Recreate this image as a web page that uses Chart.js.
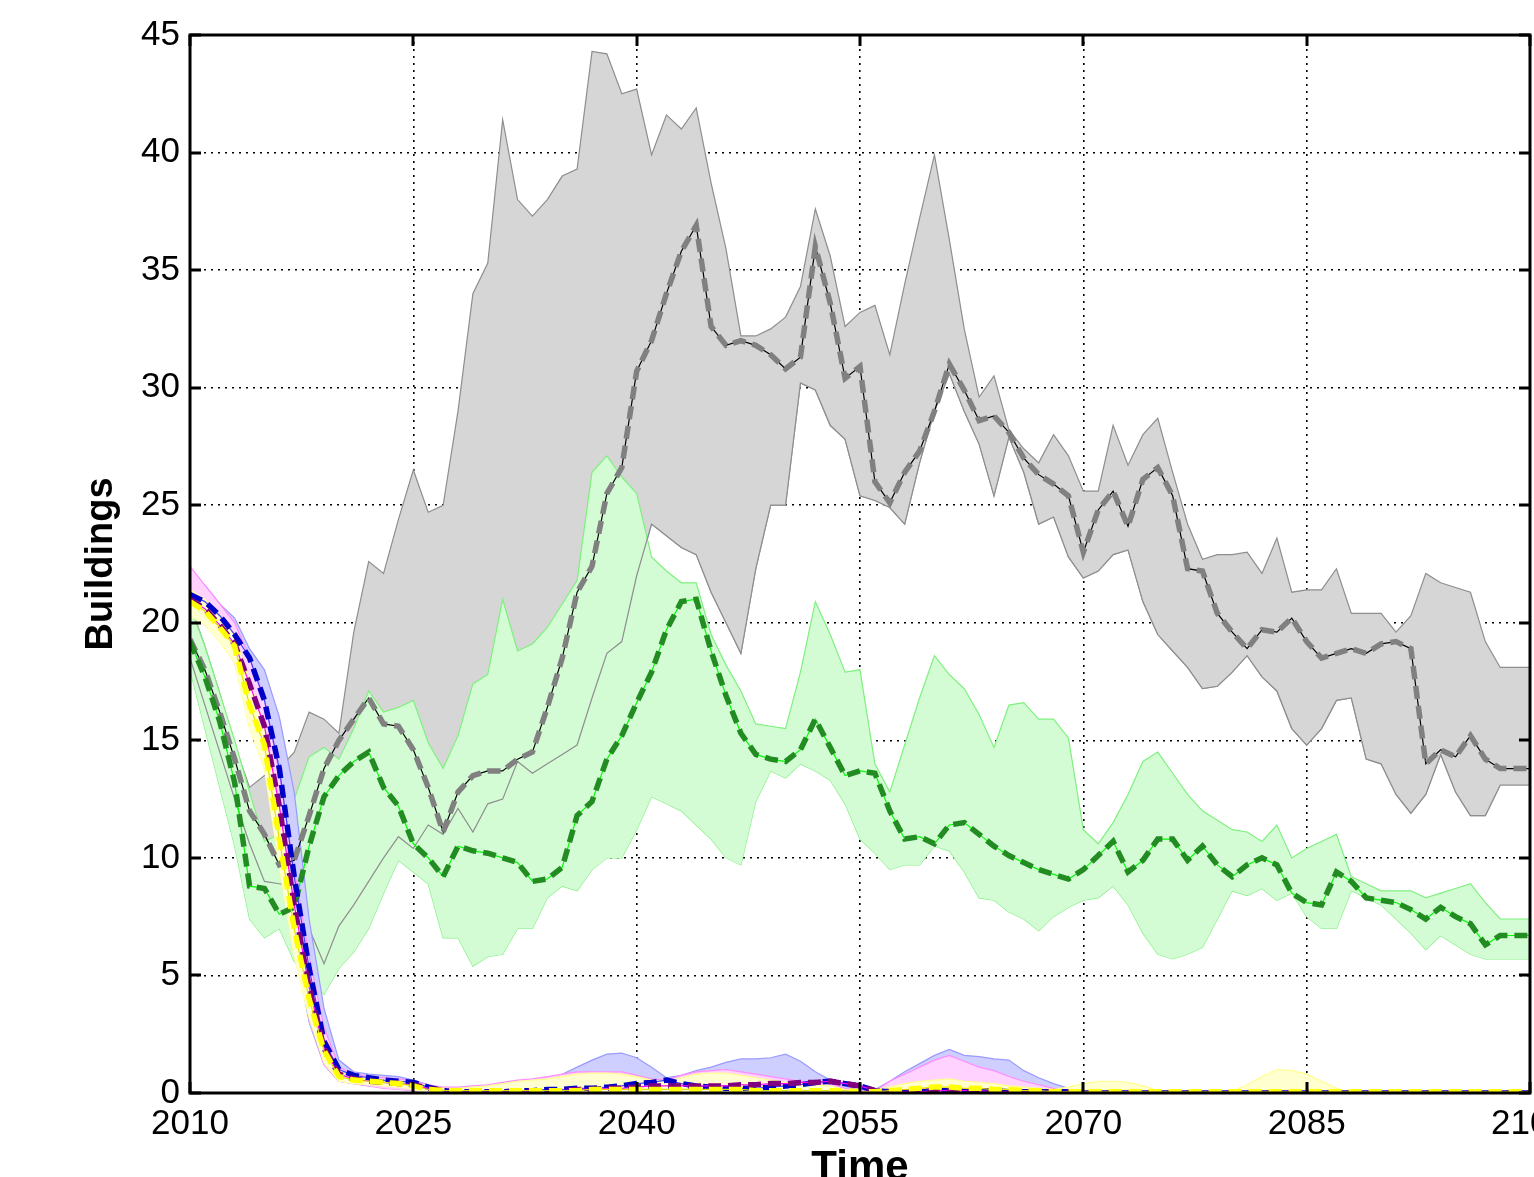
<!DOCTYPE html>
<html>
<head>
<meta charset="utf-8">
<script src="https://cdn.jsdelivr.net/npm/chart.js@4.4.1/dist/chart.umd.min.js"></script>
<style>
  html, body { margin: 0; padding: 0; background: #fff; }
  canvas { display: block; }
</style>
</head>
<body>
<canvas id="chart" width="1534" height="1177"></canvas>
<script>
// Simulation years (one sample per year)
const years = [];
for (let y = 2010; y <= 2100; y++) years.push(y);

const xTicks = [2010, 2025, 2040, 2055, 2070, 2085, 2100];
const xTickLabels = ['2010', '2025', '2040', '2055', '2070', '2085', '2100'];
const yTicks = [0, 5, 10, 15, 20, 25, 30, 35, 40, 45];
const yTickLabels = ['0', '5', '10', '15', '20', '25', '30', '35', '40', '45'];

// Gray group: mean and envelope
const grayMean = [
  19.3, 18.0, 16.2, 14.2, 12.0, 11.0, 9.7, 9.9, 11.8, 13.8,
  15.0, 15.9, 16.8, 15.7, 15.6, 14.6, 13.0, 11.1, 12.8, 13.5,
  13.7, 13.7, 14.2, 14.5, 16.4, 18.5, 21.3, 22.4, 25.5, 26.6,
  30.7, 32.0, 34.0, 35.8, 36.9, 32.6, 31.8, 32.0, 31.8, 31.4,
  30.8, 31.3, 36.0, 33.6, 30.4, 30.9, 26.0, 25.1, 26.4, 27.3,
  29.0, 31.0, 29.9, 28.6, 28.8, 28.1, 27.0, 26.3, 25.9, 25.4,
  23.0, 24.8, 25.6, 24.1, 26.1, 26.6, 25.4, 22.3, 22.2, 20.4,
  19.6, 18.9, 19.7, 19.6, 20.2, 19.2, 18.5, 18.7, 18.9, 18.7,
  19.1, 19.2, 18.9, 14.0, 14.6, 14.3, 15.2, 14.2, 13.8, 13.8, 13.8
];
const grayHi = [
  20.8, 19.0, 17.0, 14.8, 13.0, 13.5, 13.8, 14.5, 16.2, 15.9,
  15.3, 19.6, 22.6, 22.1, 24.4, 26.5, 24.7, 25.0, 29.0, 34.0,
  35.3, 41.4, 38.0, 37.3, 38.0, 39.0, 39.3, 44.3, 44.2, 42.5,
  42.7, 39.9, 41.6, 41.0, 41.9, 38.7, 35.9, 32.2, 32.2, 32.5,
  33.0, 34.3, 37.6, 35.6, 32.6, 33.2, 33.5, 31.4, 34.4, 37.2,
  39.9, 36.3, 32.5, 29.6, 30.5, 28.2, 27.4, 26.8, 28.0, 27.1,
  25.6, 25.6, 28.4, 26.7, 28.0, 28.7, 26.4, 24.2, 22.7, 22.9,
  22.9, 23.0, 22.1, 23.6, 21.3, 21.4, 21.4, 22.3, 20.4, 20.4,
  20.4, 19.6, 20.3, 22.1, 21.7, 21.5, 21.3, 19.2, 18.1, 18.1, 18.1
];
const grayLo = [
  18.5, 16.5, 14.5, 12.5, 10.6, 9.0, 8.9, 8.8, 7.0, 5.5,
  7.1, 8.0, 9.0, 10.0, 10.9, 10.4, 11.4, 11.0, 12.1, 11.1,
  12.3, 12.5, 14.1, 13.6, 14.0, 14.4, 14.8, 16.8, 18.7, 19.2,
  22.0, 24.2, 23.7, 23.2, 22.9, 21.3, 20.0, 18.7, 22.3, 25.0,
  25.0, 30.2, 29.9, 28.4, 27.8, 25.4, 25.2, 24.9, 24.2, 26.8,
  29.0, 30.6, 29.0, 27.6, 25.4, 27.9, 26.4, 24.2, 24.5, 22.8,
  21.9, 22.2, 22.9, 23.1, 20.9, 19.5, 18.8, 18.1, 17.2, 17.3,
  17.9, 18.6, 17.7, 17.1, 15.5, 14.8, 15.5, 16.7, 16.8, 14.2,
  14.0, 12.7, 11.9, 12.7, 14.4, 12.8, 11.8, 11.8, 13.1, 13.1, 13.1
];

// Green group
const greenMean = [
  19.2, 17.7, 15.8, 13.2, 8.8, 8.7, 7.6, 7.9, 10.5, 12.6,
  13.5, 14.1, 14.5, 13.0, 12.2, 10.6, 10.0, 9.2, 10.5, 10.3,
  10.2, 10.0, 9.8, 9.0, 9.1, 9.6, 11.8, 12.4, 14.2, 15.2,
  16.6, 17.9, 19.7, 20.9, 21.0, 18.8, 16.9, 15.3, 14.4, 14.2,
  14.1, 14.6, 15.9, 14.7, 13.5, 13.7, 13.6, 12.0, 10.8, 10.9,
  10.6, 11.4, 11.5, 11.0, 10.5, 10.1, 9.8, 9.5, 9.3, 9.1,
  9.5, 10.1, 10.7, 9.4, 9.9, 10.8, 10.8, 9.9, 10.5, 9.7,
  9.2, 9.7, 10.0, 9.7, 8.5, 8.1, 8.0, 9.4, 9.0, 8.3,
  8.2, 8.1, 7.8, 7.4, 7.9, 7.5, 7.2, 6.3, 6.7, 6.7, 6.7
];
const greenHi = [
  20.7, 19.0, 17.0, 15.0, 12.8, 10.7, 11.0, 12.5, 14.3, 14.7,
  14.2, 15.5, 17.1, 16.2, 16.4, 16.7, 14.9, 13.8, 15.2, 17.4,
  17.8, 21.0, 18.8, 19.1, 19.8, 20.8, 21.8, 26.4, 27.1, 26.2,
  25.5, 22.8, 22.2, 21.7, 21.7, 19.5, 18.2, 17.1, 15.7, 15.6,
  15.5, 17.9, 20.9, 19.5, 17.9, 18.0, 14.0, 12.8, 14.8, 16.8,
  18.6, 17.8, 17.2, 16.1, 14.7, 16.5, 16.6, 15.9, 15.9, 15.1,
  11.2, 10.6, 11.5, 12.7, 14.1, 14.5, 13.6, 12.7, 12.0, 11.6,
  11.2, 11.1, 10.7, 11.4, 10.0, 10.4, 10.7, 11.0, 9.2, 8.9,
  8.6, 8.6, 8.6, 8.3, 8.5, 8.7, 8.9, 8.1, 7.4, 7.4, 7.4
];
const greenLo = [
  18.0, 15.5, 13.0, 10.5, 7.4, 6.6, 7.0, 5.6, 4.9, 4.2,
  5.3, 6.0, 7.0, 8.5, 9.9, 9.4, 8.9, 6.6, 6.6, 5.4,
  5.8, 5.9, 7.0, 7.0, 8.3, 8.8, 8.6, 9.5, 10.0, 10.0,
  11.2, 12.6, 12.3, 12.0, 11.4, 10.8, 10.0, 9.7, 12.4, 13.7,
  13.4, 14.0, 13.7, 13.3, 12.3, 10.8, 10.2, 9.5, 9.7, 9.7,
  10.5, 10.3, 9.4, 8.3, 8.2, 7.7, 7.4, 6.9, 7.5, 7.9,
  8.2, 8.3, 8.8, 8.0, 6.8, 5.9, 5.7, 5.9, 6.2, 7.4,
  8.6, 8.4, 8.7, 8.2, 8.5, 7.5, 7.0, 7.0, 8.6, 8.3,
  8.0, 7.4, 6.8, 6.1, 6.7, 6.3, 5.9, 5.7, 5.7, 5.7, 5.7
];

// Blue group
const blueMean = [
  21.2, 20.9, 20.3, 19.5, 18.5, 16.7, 13.8, 9.2, 5.3, 2.2,
  1.0, 0.75, 0.65, 0.55, 0.5, 0.45, 0.25, 0.1, 0.05, 0.05,
  0.05, 0.05, 0.1, 0.1, 0.15, 0.15, 0.2, 0.2, 0.25, 0.3,
  0.4, 0.45, 0.55, 0.4, 0.3, 0.25, 0.2, 0.2, 0.2, 0.25,
  0.3, 0.35, 0.45, 0.5, 0.4, 0.3, 0.1, 0.05, 0.05, 0.05,
  0.1, 0.1, 0.1, 0.1, 0.1, 0.05, 0.05, 0.05, 0.05, 0.05,
  0, 0, 0, 0, 0, 0, 0, 0, 0, 0,
  0, 0, 0, 0, 0, 0, 0, 0, 0, 0,
  0, 0, 0, 0, 0, 0, 0, 0, 0, 0, 0
];
const blueHi = [
  21.9, 21.6, 20.8, 20.2, 18.9, 18.0, 16.0, 12.8, 7.4, 3.6,
  1.4, 0.9, 0.8, 0.75, 0.7, 0.55, 0.35, 0.15, 0.1, 0.15,
  0.3, 0.4, 0.45, 0.5, 0.55, 0.8, 1.1, 1.4, 1.65, 1.7,
  1.5, 1.1, 0.65, 0.75, 0.95, 1.1, 1.3, 1.45, 1.45, 1.5,
  1.65, 1.35, 0.9, 0.55, 0.3, 0.1, 0.15, 0.5, 0.9, 1.25,
  1.6, 1.85, 1.6, 1.55, 1.45, 1.4, 0.95, 0.65, 0.4, 0.2,
  0.05, 0, 0, 0, 0, 0, 0, 0, 0, 0,
  0, 0, 0, 0, 0, 0, 0, 0, 0, 0,
  0, 0, 0, 0, 0, 0, 0, 0, 0, 0, 0
];
const blueLo = [
  20.4, 20.0, 19.4, 18.5, 17.0, 15.0, 11.5, 6.5, 3.0, 1.2,
  0.5, 0.4, 0.3, 0.25, 0.2, 0.1, 0, 0, 0, 0,
  0, 0, 0, 0, 0, 0, 0, 0, 0, 0,
  0, 0, 0, 0, 0, 0, 0, 0, 0, 0,
  0, 0, 0, 0, 0, 0, 0, 0, 0, 0,
  0, 0, 0, 0, 0, 0, 0, 0, 0, 0,
  0, 0, 0, 0, 0, 0, 0, 0, 0, 0,
  0, 0, 0, 0, 0, 0, 0, 0, 0, 0,
  0, 0, 0, 0, 0, 0, 0, 0, 0, 0, 0
];

// Magenta group
const magentaMean = [
  21.0, 20.6, 19.9, 19.1, 17.4, 15.6, 12.2, 8.0, 4.5, 1.9,
  0.8, 0.6, 0.5, 0.45, 0.4, 0.35, 0.2, 0.1, 0.05, 0.05,
  0.05, 0.05, 0.05, 0.1, 0.1, 0.1, 0.15, 0.15, 0.2, 0.2,
  0.25, 0.3, 0.3, 0.3, 0.3, 0.3, 0.3, 0.35, 0.35, 0.4,
  0.4, 0.45, 0.45, 0.5, 0.4, 0.3, 0.1, 0.05, 0.05, 0.05,
  0.1, 0.1, 0.1, 0.1, 0.05, 0.05, 0.05, 0.05, 0.05, 0.05,
  0, 0, 0, 0, 0, 0, 0, 0, 0, 0,
  0, 0, 0, 0, 0, 0, 0, 0, 0, 0,
  0, 0, 0, 0, 0, 0, 0, 0, 0, 0, 0
];
const magentaHi = [
  22.4, 21.6, 20.8, 20.0, 18.5, 16.8, 13.6, 9.5, 5.8, 2.8,
  1.1, 0.8, 0.7, 0.65, 0.6, 0.5, 0.35, 0.25, 0.25, 0.3,
  0.35, 0.45, 0.55, 0.6, 0.7, 0.8, 0.9, 0.9, 0.9, 0.9,
  0.75, 0.6, 0.55, 0.75, 0.9, 0.95, 1.0, 0.9, 0.8, 0.7,
  0.6, 0.5, 0.45, 0.4, 0.2, 0.1, 0.1, 0.5, 0.8, 1.1,
  1.4, 1.6, 1.35, 1.1, 0.95, 0.7, 0.5, 0.35, 0.2, 0.1,
  0, 0, 0, 0, 0, 0, 0, 0, 0, 0,
  0, 0, 0, 0, 0, 0, 0, 0, 0, 0,
  0, 0, 0, 0, 0, 0, 0, 0, 0, 0, 0
];
const magentaLo = [
  20.5, 19.9, 19.3, 18.3, 16.0, 14.0, 10.5, 6.5, 3.2, 1.2,
  0.5, 0.4, 0.3, 0.2, 0.15, 0.1, 0, 0, 0, 0,
  0, 0, 0, 0, 0, 0, 0, 0, 0, 0,
  0, 0, 0, 0, 0, 0, 0, 0, 0, 0,
  0, 0, 0, 0, 0, 0, 0, 0, 0, 0,
  0, 0, 0, 0, 0, 0, 0, 0, 0, 0,
  0, 0, 0, 0, 0, 0, 0, 0, 0, 0,
  0, 0, 0, 0, 0, 0, 0, 0, 0, 0,
  0, 0, 0, 0, 0, 0, 0, 0, 0, 0, 0
];

// Yellow group
const yellowMean = [
  20.9, 20.5, 19.8, 19.0, 16.5, 14.8, 10.8, 7.0, 4.0, 1.8,
  0.7, 0.55, 0.5, 0.45, 0.4, 0.3, 0.15, 0.1, 0.1, 0.1,
  0.1, 0.1, 0.1, 0.1, 0.1, 0.1, 0.1, 0.15, 0.15, 0.15,
  0.15, 0.15, 0.15, 0.15, 0.15, 0.15, 0.15, 0.15, 0.1, 0.1,
  0.1, 0.1, 0.1, 0.1, 0.1, 0.05, 0.05, 0.1, 0.15, 0.2,
  0.25, 0.25, 0.2, 0.2, 0.15, 0.15, 0.1, 0.1, 0.05, 0.05,
  0.05, 0.05, 0.05, 0.05, 0.05, 0.05, 0.05, 0.05, 0.05, 0.05,
  0.05, 0.05, 0.05, 0.05, 0.05, 0.05, 0.05, 0.05, 0.05, 0.05,
  0.05, 0.05, 0.05, 0.05, 0.05, 0.05, 0.05, 0.05, 0.05, 0.05, 0.05
];
const yellowHi = [
  21.4, 21.0, 20.3, 19.5, 17.5, 15.6, 12.0, 8.0, 4.8, 2.3,
  0.9, 0.7, 0.6, 0.55, 0.5, 0.45, 0.3, 0.2, 0.2, 0.25,
  0.3, 0.4, 0.5, 0.55, 0.6, 0.7, 0.8, 0.85, 0.85, 0.8,
  0.7, 0.55, 0.5, 0.65, 0.8, 0.85, 0.85, 0.75, 0.65, 0.55,
  0.45, 0.4, 0.35, 0.3, 0.15, 0.05, 0.1, 0.25, 0.4, 0.5,
  0.55, 0.6, 0.5, 0.45, 0.4, 0.3, 0.25, 0.2, 0.15, 0.25,
  0.4, 0.5, 0.5, 0.45, 0.3, 0.1, 0, 0, 0, 0,
  0.05, 0.35, 0.7, 1.0, 0.95, 0.8, 0.5, 0.2, 0, 0,
  0, 0, 0, 0, 0, 0, 0, 0, 0, 0, 0
];
const yellowLo = [
  20.3, 19.9, 19.2, 18.3, 15.5, 13.8, 9.6, 5.8, 3.2, 1.3,
  0.5, 0.4, 0.35, 0.3, 0.25, 0.15, 0, 0, 0, 0,
  0, 0, 0, 0, 0, 0, 0, 0, 0, 0,
  0, 0, 0, 0, 0, 0, 0, 0, 0, 0,
  0, 0, 0, 0, 0, 0, 0, 0, 0, 0,
  0, 0, 0, 0, 0, 0, 0, 0, 0, 0,
  0, 0, 0, 0, 0, 0, 0, 0, 0, 0,
  0, 0, 0, 0, 0, 0, 0, 0, 0, 0,
  0, 0, 0, 0, 0, 0, 0, 0, 0, 0, 0
];

const pts = arr => years.map((x, i) => ({ x, y: arr[i] }));

// Datasets: lower "order" values are painted on top
const datasets = [];
function add(cfg) {
  datasets.push(Object.assign({ pointRadius: 0, tension: 0, fill: false }, cfg));
  return datasets.length - 1;
}

// Envelope bands (lower edge line + upper edge filled down to it)
function band(lo, hi, edge, fillColor, order) {
  const iLo = add({ data: pts(lo), borderColor: edge, borderWidth: 1.2, order: order });
  add({ data: pts(hi), borderColor: edge, borderWidth: 1.2, backgroundColor: fillColor,
        fill: { target: iLo }, order: order - 1 });
}
band(grayLo, grayHi, '#8e8e8e', '#d6d6d6', 40);
band(greenLo, greenHi, '#7ef07e', '#d4fcd4', 36);
// gray lower envelope edge stays visible across the green band
add({ data: pts(grayLo), borderColor: '#8e8e8e', borderWidth: 1.2, order: 33 });
band(blueLo, blueHi, '#9a9aff', '#ceceff', 31);
band(magentaLo, magentaHi, '#ff8cff', '#ffd2ff', 28);
band(yellowLo, yellowHi, '#ffff8c', '#ffffd0', 25);

// Mean curves: thin solid trace under a thick dashed stroke
function meanLine(arr, thin, thick, order) {
  add({ data: pts(arr), borderColor: thin, borderWidth: 1.2, order: order });
  add({ data: pts(arr), borderColor: thick, borderWidth: 5.5, borderDash: [13, 7],
        borderCapStyle: 'butt', order: order - 1 });
}
meanLine(grayMean, '#000000', '#808080', 20);
meanLine(greenMean, '#00ff00', '#228b22', 17);
meanLine(blueMean, '#4040ff', '#0000c8', 14);
meanLine(magentaMean, '#ff00ff', '#800080', 11);
meanLine(yellowMean, '#e0e000', '#ffff00', 8);

// White page background
const background = {
  id: 'background',
  beforeDraw(chart) {
    const { ctx, width, height } = chart;
    ctx.save();
    ctx.fillStyle = '#ffffff';
    ctx.fillRect(0, 0, width, height);
    ctx.restore();
  }
};

// Box frame with inward tick marks on all four sides
const frame = {
  id: 'frame',
  afterDatasetsDraw(chart) {
    const { ctx, chartArea: a, scales: { x, y } } = chart;
    const L = 11;
    ctx.save();
    ctx.strokeStyle = '#000';
    ctx.lineCap = 'butt';
    ctx.lineWidth = 3;
    ctx.beginPath();
    xTicks.forEach(v => {
      const px = Math.round(x.getPixelForValue(v));
      ctx.moveTo(px, a.bottom); ctx.lineTo(px, a.bottom - L);
      ctx.moveTo(px, a.top); ctx.lineTo(px, a.top + L);
    });
    yTicks.forEach(v => {
      const py = Math.round(y.getPixelForValue(v));
      ctx.moveTo(a.left, py); ctx.lineTo(a.left + L, py);
      ctx.moveTo(a.right, py); ctx.lineTo(a.right - L, py);
    });
    ctx.stroke();
    ctx.lineWidth = 3;
    ctx.strokeRect(a.left, a.top, a.right - a.left, a.bottom - a.top);
    ctx.restore();
  }
};

Chart.defaults.font.family = "'Liberation Sans', Arial, Helvetica, sans-serif";
Chart.defaults.color = '#000';

new Chart(document.getElementById('chart'), {
  type: 'line',
  data: { datasets },
  options: {
    responsive: false,
    animation: false,
    events: [],
    layout: { padding: { top: 35, right: 4, bottom: 0, left: 0 } },
    plugins: {
      legend: { display: false },
      tooltip: { enabled: false },
      filler: { propagate: false }
    },
    scales: {
      x: {
        type: 'linear',
        min: 2010,
        max: 2100,
        afterBuildTicks: s => { s.ticks = xTicks.map(v => ({ value: v })); },
        afterFit: s => { s.height = 84; s.paddingLeft = 0; s.paddingRight = 0; },
        ticks: {
          autoSkip: false, maxRotation: 0, padding: 10,
          font: { size: 35 }, color: '#000',
          callback: (v, i) => xTickLabels[i]
        },
        grid: { color: '#000', lineWidth: 1.6, drawTicks: false },
        border: { display: false, dash: [2, 5] },
        title: {
          display: true, text: 'Time', color: '#000',
          font: { size: 42, weight: 'bold', lineHeight: 0.43 },
          padding: { top: 0, bottom: 0 }
        }
      },
      y: {
        type: 'linear',
        min: 0,
        max: 45,
        afterBuildTicks: s => { s.ticks = yTicks.map(v => ({ value: v })); },
        afterFit: s => { s.width = 190; s.paddingTop = 0; s.paddingBottom = 0; },
        ticks: {
          autoSkip: false, padding: 10,
          font: { size: 35 }, color: '#000',
          callback: (v, i) => yTickLabels[i]
        },
        grid: { color: '#000', lineWidth: 1.6, drawTicks: false },
        border: { display: false, dash: [2, 5] },
        title: {
          display: true, text: 'Buildings', color: '#000',
          font: { size: 38, weight: 'bold', lineHeight: 1.2 },
          padding: { top: 79, bottom: 0 }
        }
      }
    }
  },
  plugins: [background, frame]
});
</script>
</body>
</html>
